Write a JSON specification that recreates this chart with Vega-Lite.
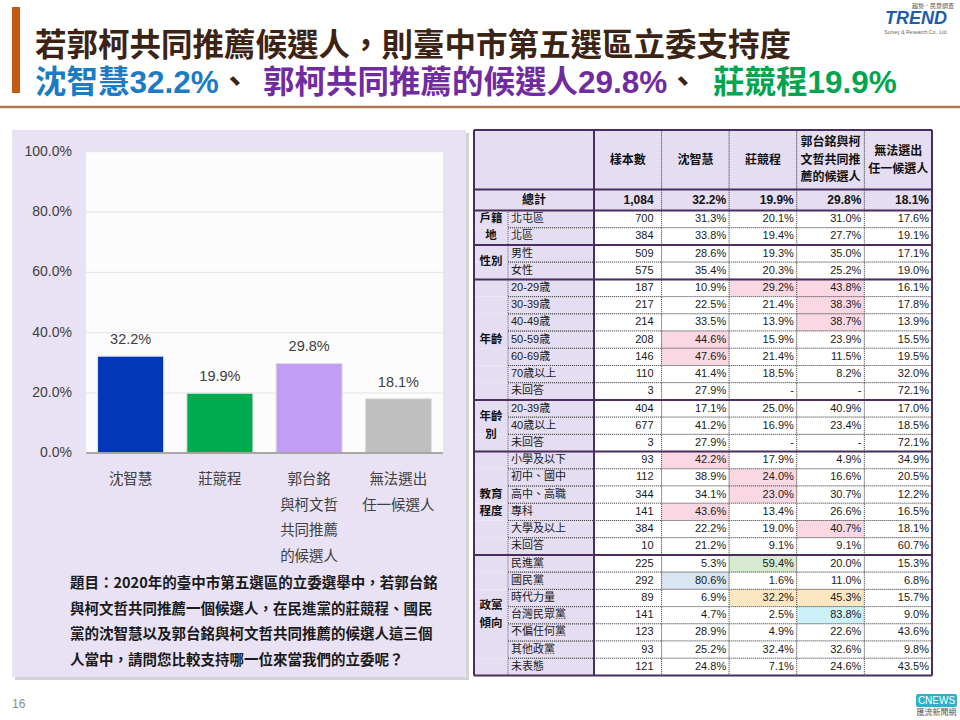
{
  "$schema": "https://vega.github.io/schema/vega-lite/v6.json",
  "width": 960,
  "height": 720,
  "autosize": {"type": "none"},
  "padding": 0,
  "background": "#FFFFFF",
  "config": {"view": {"stroke": null}, "font": "Liberation Sans, Noto Sans CJK TC"},
  "resolve": {"scale": {"x": "independent", "y": "independent", "color": "independent", "fill": "independent"}},
  "layer": [
    {
      "data": {"values": [{}]},
      "layer": [
        {"mark": {"type": "rect", "fill": "#D3D3D3"}, "encoding": {"x": {"value": 15}, "x2": {"value": 469}, "y": {"value": 133}, "y2": {"value": 680}}},
        {"mark": {"type": "rect", "fill": "#E8E2F4"}, "encoding": {"x": {"value": 12}, "x2": {"value": 466}, "y": {"value": 130}, "y2": {"value": 677}}},
        {"mark": {"type": "rect", "fill": "#FCFCFC"}, "encoding": {"x": {"value": 86}, "x2": {"value": 443}, "y": {"value": 152}, "y2": {"value": 453}}},
        {"mark": {"type": "rect", "fill": "#C55A11"}, "encoding": {"x": {"value": 12}, "x2": {"value": 20}, "y": {"value": 7}, "y2": {"value": 93}}},
        {"mark": {"type": "text", "text": "若郭柯共同推薦候選人，則臺中市第五選區立委支持度", "align": "left", "baseline": "middle", "fontSize": 31.5, "fontWeight": "bold", "font": "Liberation Sans, Noto Sans CJK TC", "color": "#3C2415"}, "encoding": {"x": {"value": 35}, "y": {"value": 47}}},
        {"mark": {"type": "text", "text": "沈智慧32.2%", "align": "left", "baseline": "middle", "fontSize": 31.5, "fontWeight": "bold", "font": "Liberation Sans, Noto Sans CJK TC", "color": "#1B7BC4"}, "encoding": {"x": {"value": 35}, "y": {"value": 83.5}}},
        {"mark": {"type": "text", "text": "、", "align": "left", "baseline": "middle", "fontSize": 31.5, "fontWeight": "bold", "font": "Liberation Sans, Noto Sans CJK TC", "color": "#3C2415"}, "encoding": {"x": {"value": 219}, "y": {"value": 83.5}}},
        {"mark": {"type": "text", "text": "郭柯共同推薦的候選人29.8%", "align": "left", "baseline": "middle", "fontSize": 31.5, "fontWeight": "bold", "font": "Liberation Sans, Noto Sans CJK TC", "color": "#702C9F"}, "encoding": {"x": {"value": 263}, "y": {"value": 83.5}}},
        {"mark": {"type": "text", "text": "、", "align": "left", "baseline": "middle", "fontSize": 31.5, "fontWeight": "bold", "font": "Liberation Sans, Noto Sans CJK TC", "color": "#3C2415"}, "encoding": {"x": {"value": 667}, "y": {"value": 83.5}}},
        {"mark": {"type": "text", "text": "莊競程19.9%", "align": "left", "baseline": "middle", "fontSize": 31.5, "fontWeight": "bold", "font": "Liberation Sans, Noto Sans CJK TC", "color": "#00A550"}, "encoding": {"x": {"value": 713}, "y": {"value": 83.5}}},
        {"mark": {"type": "rule", "stroke": "#B07A55", "strokeWidth": 2.5}, "encoding": {"x": {"value": 0}, "x2": {"value": 960}, "y": {"value": 107}}},
        {"mark": {"type": "text", "text": "趨勢．民意調查", "align": "center", "baseline": "middle", "fontSize": 6, "color": "#555555"}, "encoding": {"x": {"value": 933}, "y": {"value": 6}}},
        {"mark": {"type": "text", "text": "TREND", "align": "center", "baseline": "middle", "fontSize": 18, "fontWeight": "bold", "fontStyle": "italic", "font": "Liberation Sans", "color": "#1C5DAE"}, "encoding": {"x": {"value": 916}, "y": {"value": 19}}},
        {"mark": {"type": "text", "text": "Survey & Research Co., Ltd.", "align": "center", "baseline": "middle", "fontSize": 5, "color": "#666666"}, "encoding": {"x": {"value": 916}, "y": {"value": 32}}},
        {"mark": {"type": "text", "text": "題目：2020年的臺中市第五選區的立委選舉中，若郭台銘\n與柯文哲共同推薦一個候選人，在民進黨的莊競程、國民\n黨的沈智慧以及郭台銘與柯文哲共同推薦的候選人這三個\n人當中，請問您比較支持哪一位來當我們的立委呢？", "lineBreak": "\n", "lineHeight": 25.5, "align": "left", "baseline": "alphabetic", "fontSize": 14.5, "fontWeight": "bold", "font": "Noto Sans CJK TC", "color": "#1A1A1A"}, "encoding": {"x": {"value": 70}, "y": {"value": 588}}},
        {"mark": {"type": "text", "text": "16", "align": "left", "baseline": "middle", "fontSize": 12, "color": "#8C8C8C"}, "encoding": {"x": {"value": 12}, "y": {"value": 704}}},
        {"mark": {"type": "rect", "fill": "#2CB4C6", "cornerRadius": 2}, "encoding": {"x": {"value": 916}, "x2": {"value": 957}, "y": {"value": 694}, "y2": {"value": 707}}},
        {"mark": {"type": "text", "text": "CNEWS", "align": "center", "baseline": "middle", "fontSize": 10, "color": "#FFFFFF"}, "encoding": {"x": {"value": 936.5}, "y": {"value": 701}}},
        {"mark": {"type": "text", "text": "匯流新聞網", "align": "center", "baseline": "middle", "fontSize": 8, "color": "#555555"}, "encoding": {"x": {"value": 936.5}, "y": {"value": 713}}}
      ]
    },
    {
      "data": {"values": [
        {"候選人": "沈智慧", "支持度": 0.322},
        {"候選人": "莊競程", "支持度": 0.199},
        {"候選人": "郭台銘與柯文哲共同推薦的候選人", "支持度": 0.298},
        {"候選人": "無法選出任一候選人", "支持度": 0.181}
      ]},
      "layer": [
        {
          "data": {"values": [{"刻度": 0}, {"刻度": 0.2}, {"刻度": 0.4}, {"刻度": 0.6}, {"刻度": 0.8}, {"刻度": 1}]},
          "layer": [
            {"transform": [{"filter": "datum['刻度'] > 0"}],
             "mark": {"type": "rule", "stroke": "#E3E3E3", "strokeWidth": 1},
             "encoding": {"y": {"field": "刻度", "type": "quantitative", "axis": null}, "x": {"value": 86}, "x2": {"value": 443}}},
            {"mark": {"type": "text", "align": "right", "baseline": "middle", "fontSize": 14, "color": "#404040", "font": "Liberation Sans"},
             "encoding": {"y": {"field": "刻度", "type": "quantitative", "axis": null}, "x": {"value": 72}, "text": {"field": "刻度", "type": "quantitative", "format": ".1%"}}}
          ]
        },
        {
          "mark": {"type": "bar", "stroke": "#E0E0E0", "strokeWidth": 1},
          "encoding": {
            "x": {"field": "候選人", "type": "nominal", "sort": null,
              "scale": {"range": [86, 443], "paddingInner": 0.26, "paddingOuter": 0.13}, "axis": null},
            "y": {"field": "支持度", "type": "quantitative",
              "scale": {"domain": [0, 1], "range": [453.3, 151.7], "nice": false, "zero": true}, "axis": null},
            "color": {"field": "候選人", "type": "nominal", "sort": null, "scale": {"range": ["#0038B8", "#00AB4F", "#C39DF4", "#BFBFBF"]}, "legend": null}
          }
        },
        {"mark": {"type": "rule", "stroke": "#A6A6A6", "strokeWidth": 1.5},
         "encoding": {"y": {"datum": 0, "type": "quantitative", "axis": null}, "x": {"value": 86}, "x2": {"value": 443}}},
        {
          "mark": {"type": "text", "baseline": "middle", "dy": -16, "fontSize": 14.5, "color": "#404040", "font": "Liberation Sans"},
          "encoding": {
            "x": {"field": "候選人", "type": "nominal", "sort": null, "axis": null},
            "y": {"field": "支持度", "type": "quantitative", "axis": null},
            "text": {"field": "支持度", "type": "quantitative", "format": ".1%"}
          }
        },
        {
          "transform": [{"calculate": "datum['候選人'] === '郭台銘與柯文哲共同推薦的候選人' ? '郭台銘\\n與柯文哲\\n共同推薦\\n的候選人' : datum['候選人'] === '無法選出任一候選人' ? '無法選出\\n任一候選人' : datum['候選人']", "as": "標籤"}],
          "mark": {"type": "text", "baseline": "top", "align": "center", "lineBreak": "\n", "lineHeight": 25.5, "fontSize": 14.5, "color": "#404040", "font": "Liberation Sans, Noto Sans CJK TC"},
          "encoding": {
            "x": {"field": "候選人", "type": "nominal", "sort": null, "axis": null},
            "y": {"value": 473},
            "text": {"field": "標籤"}
          }
        }
      ]
    },
    {
      "data": {"values": [
        {"g": "總計", "s": "", "樣本數": 1084, "沈智慧": 32.2, "莊競程": 19.9, "郭柯推薦": 29.8, "無法選出": 18.1},
        {"g": "戶籍地", "s": "北屯區", "樣本數": 700, "沈智慧": 31.3, "莊競程": 20.1, "郭柯推薦": 31.0, "無法選出": 17.6},
        {"g": "戶籍地", "s": "北區", "樣本數": 384, "沈智慧": 33.8, "莊競程": 19.4, "郭柯推薦": 27.7, "無法選出": 19.1},
        {"g": "性別", "s": "男性", "樣本數": 509, "沈智慧": 28.6, "莊競程": 19.3, "郭柯推薦": 35.0, "無法選出": 17.1},
        {"g": "性別", "s": "女性", "樣本數": 575, "沈智慧": 35.4, "莊競程": 20.3, "郭柯推薦": 25.2, "無法選出": 19.0},
        {"g": "年齡", "s": "20-29歳", "樣本數": 187, "沈智慧": 10.9, "莊競程": 29.2, "郭柯推薦": 43.8, "無法選出": 16.1, "hi": ["莊競程", "郭柯推薦"]},
        {"g": "年齡", "s": "30-39歳", "樣本數": 217, "沈智慧": 22.5, "莊競程": 21.4, "郭柯推薦": 38.3, "無法選出": 17.8, "hi": ["郭柯推薦"]},
        {"g": "年齡", "s": "40-49歳", "樣本數": 214, "沈智慧": 33.5, "莊競程": 13.9, "郭柯推薦": 38.7, "無法選出": 13.9, "hi": ["郭柯推薦"]},
        {"g": "年齡", "s": "50-59歳", "樣本數": 208, "沈智慧": 44.6, "莊競程": 15.9, "郭柯推薦": 23.9, "無法選出": 15.5, "hi": ["沈智慧"]},
        {"g": "年齡", "s": "60-69歳", "樣本數": 146, "沈智慧": 47.6, "莊競程": 21.4, "郭柯推薦": 11.5, "無法選出": 19.5, "hi": ["沈智慧"]},
        {"g": "年齡", "s": "70歳以上", "樣本數": 110, "沈智慧": 41.4, "莊競程": 18.5, "郭柯推薦": 8.2, "無法選出": 32.0},
        {"g": "年齡", "s": "未回答", "樣本數": 3, "沈智慧": 27.9, "莊競程": null, "郭柯推薦": null, "無法選出": 72.1},
        {"g": "年齡別", "s": "20-39歳", "樣本數": 404, "沈智慧": 17.1, "莊競程": 25.0, "郭柯推薦": 40.9, "無法選出": 17.0},
        {"g": "年齡別", "s": "40歳以上", "樣本數": 677, "沈智慧": 41.2, "莊競程": 16.9, "郭柯推薦": 23.4, "無法選出": 18.5},
        {"g": "年齡別", "s": "未回答", "樣本數": 3, "沈智慧": 27.9, "莊競程": null, "郭柯推薦": null, "無法選出": 72.1},
        {"g": "教育程度", "s": "小學及以下", "樣本數": 93, "沈智慧": 42.2, "莊競程": 17.9, "郭柯推薦": 4.9, "無法選出": 34.9, "hi": ["沈智慧"]},
        {"g": "教育程度", "s": "初中、國中", "樣本數": 112, "沈智慧": 38.9, "莊競程": 24.0, "郭柯推薦": 16.6, "無法選出": 20.5, "hi": ["莊競程"]},
        {"g": "教育程度", "s": "高中、高職", "樣本數": 344, "沈智慧": 34.1, "莊競程": 23.0, "郭柯推薦": 30.7, "無法選出": 12.2, "hi": ["莊競程"]},
        {"g": "教育程度", "s": "專科", "樣本數": 141, "沈智慧": 43.6, "莊競程": 13.4, "郭柯推薦": 26.6, "無法選出": 16.5, "hi": ["沈智慧"]},
        {"g": "教育程度", "s": "大學及以上", "樣本數": 384, "沈智慧": 22.2, "莊競程": 19.0, "郭柯推薦": 40.7, "無法選出": 18.1, "hi": ["郭柯推薦"]},
        {"g": "教育程度", "s": "未回答", "樣本數": 10, "沈智慧": 21.2, "莊競程": 9.1, "郭柯推薦": 9.1, "無法選出": 60.7},
        {"g": "政黨傾向", "s": "民進黨", "樣本數": 225, "沈智慧": 5.3, "莊競程": 59.4, "郭柯推薦": 20.0, "無法選出": 15.3, "hi": ["莊競程"]},
        {"g": "政黨傾向", "s": "國民黨", "樣本數": 292, "沈智慧": 80.6, "莊競程": 1.6, "郭柯推薦": 11.0, "無法選出": 6.8, "hi": ["沈智慧"]},
        {"g": "政黨傾向", "s": "時代力量", "樣本數": 89, "沈智慧": 6.9, "莊競程": 32.2, "郭柯推薦": 45.3, "無法選出": 15.7, "hi": ["莊競程", "郭柯推薦"]},
        {"g": "政黨傾向", "s": "台灣民眾黨", "樣本數": 141, "沈智慧": 4.7, "莊競程": 2.5, "郭柯推薦": 83.8, "無法選出": 9.0, "hi": ["郭柯推薦"]},
        {"g": "政黨傾向", "s": "不偏任何黨", "樣本數": 123, "沈智慧": 28.9, "莊競程": 4.9, "郭柯推薦": 22.6, "無法選出": 43.6},
        {"g": "政黨傾向", "s": "其他政黨", "樣本數": 93, "沈智慧": 25.2, "莊競程": 32.4, "郭柯推薦": 32.6, "無法選出": 9.8},
        {"g": "政黨傾向", "s": "未表態", "樣本數": 121, "沈智慧": 24.8, "莊競程": 7.1, "郭柯推薦": 24.6, "無法選出": 43.5}
      ]},
      "transform": [
        {"window": [{"op": "row_number", "as": "idx"}]},
        {"calculate": "datum.idx - 1", "as": "top"},
        {"calculate": "datum.idx - 0.5", "as": "mid"},
        {"window": [{"op": "row_number", "as": "gr"}], "groupby": ["g"], "sort": [{"field": "idx", "order": "ascending"}]},
        {"joinaggregate": [{"op": "mean", "field": "mid", "as": "gmid"}], "groupby": ["g"]}
      ],
      "layer": [
        {"mark": {"type": "rect", "fill": "#E5DEF3"},
         "encoding": {"x": {"value": 474}, "x2": {"value": 594},
           "y": {"field": "top", "type": "quantitative", "scale": {"type": "linear", "domain": [-1, 0, 1, 28], "range": [130, 189.5, 210.5, 675.5], "nice": false, "zero": false}, "axis": null},
           "y2": {"field": "idx"}}},
        {"transform": [{"filter": "datum.idx === 1"}],
         "mark": {"type": "rect", "fill": "#E5DEF3"},
         "encoding": {"x": {"value": 474}, "x2": {"value": 932},
           "y": {"datum": -1, "type": "quantitative", "axis": null}, "y2": {"datum": 0}}},
        {"transform": [
           {"fold": ["樣本數", "沈智慧", "莊競程", "郭柯推薦", "無法選出"], "as": ["col", "v"]},
           {"calculate": "datum.g === '政黨傾向' ? datum.s : '高於整體'", "as": "kind"}],
         "mark": {"type": "rect", "stroke": "#3C3C3C", "strokeWidth": 0.8, "strokeDash": [1, 1]},
         "encoding": {
           "x": {"field": "col", "type": "nominal", "scale": {"type": "band", "domain": ["樣本數", "沈智慧", "莊競程", "郭柯推薦", "無法選出"], "range": [594, 932], "paddingInner": 0, "paddingOuter": 0}, "axis": null},
           "y": {"field": "top", "type": "quantitative", "axis": null},
           "y2": {"field": "idx"},
           "fill": {"field": "kind", "type": "nominal",
             "scale": {"domain": ["高於整體", "民進黨", "國民黨", "時代力量", "台灣民眾黨"], "range": ["#F9D8E4", "#D7E9CF", "#D9E5F2", "#FDE7C2", "#CCF1F8"]},
             "legend": null,
             "condition": [
               {"test": "datum.idx === 1", "value": "#E5DEF3"},
               {"test": "indexof(datum.hi || [], datum.col) < 0", "value": "#FFFFFF"}
             ]}
         }},
        {"transform": [{"filter": "datum.idx === 1"}, {"fold": ["樣本數", "沈智慧", "莊競程", "郭柯推薦", "無法選出"], "as": ["col", "v"]}],
         "mark": {"type": "rect", "fill": "#E5DEF3", "stroke": "#3C3C3C", "strokeWidth": 0.8, "strokeDash": [1, 1]},
         "encoding": {"x": {"field": "col", "type": "nominal", "axis": null},
           "y": {"datum": -1, "type": "quantitative", "axis": null}, "y2": {"datum": 0}}},
        {"transform": [
           {"filter": "datum.idx === 1"},
           {"fold": ["樣本數", "沈智慧", "莊競程", "郭柯推薦", "無法選出"], "as": ["col", "v"]},
           {"calculate": "datum.col === '郭柯推薦' ? '郭台銘與柯\\n文哲共同推\\n薦的候選人' : datum.col === '無法選出' ? '無法選出\\n任一候選人' : datum.col", "as": "head"}],
         "layer": [
           {"transform": [{"filter": "datum.col !== '郭柯推薦' && datum.col !== '無法選出'"}],
            "mark": {"type": "text", "fontSize": 12, "fontWeight": "bold", "align": "center", "baseline": "middle", "color": "#111111"},
            "encoding": {"x": {"field": "col", "type": "nominal", "axis": null}, "y": {"datum": -0.5, "type": "quantitative", "axis": null}, "text": {"field": "head"}}},
           {"transform": [{"filter": "datum.col === '無法選出'"}],
            "mark": {"type": "text", "fontSize": 12, "fontWeight": "bold", "lineBreak": "\n", "lineHeight": 17.5, "dy": -8.75, "align": "center", "baseline": "middle", "color": "#111111"},
            "encoding": {"x": {"field": "col", "type": "nominal", "axis": null}, "y": {"datum": -0.5, "type": "quantitative", "axis": null}, "text": {"field": "head"}}},
           {"transform": [{"filter": "datum.col === '郭柯推薦'"}],
            "mark": {"type": "text", "fontSize": 12, "fontWeight": "bold", "lineBreak": "\n", "lineHeight": 17.5, "dy": -17.5, "align": "center", "baseline": "middle", "color": "#111111"},
            "encoding": {"x": {"field": "col", "type": "nominal", "axis": null}, "y": {"datum": -0.5, "type": "quantitative", "axis": null}, "text": {"field": "head"}}}
         ]},
        {"transform": [{"filter": "datum.idx > 1"}],
         "mark": {"type": "rect", "fill": "transparent", "stroke": "#3C3C3C", "strokeWidth": 0.8, "strokeDash": [1, 1]},
         "encoding": {"x": {"value": 508}, "x2": {"value": 594},
           "y": {"field": "top", "type": "quantitative", "axis": null}, "y2": {"field": "idx"}}},
        {"transform": [
           {"filter": "datum.idx > 1"},
           {"fold": ["沈智慧", "莊競程", "郭柯推薦", "無法選出"], "as": ["col", "v"]},
           {"calculate": "datum.v === null ? '-\u00a0\u00a0\u00a0' : format(datum.v, '.1f') + '%'", "as": "lab"}],
         "mark": {"type": "text", "align": "right", "baseline": "middle", "dx": -3, "fontSize": 11, "color": "#1A1A1A", "font": "Liberation Sans"},
         "encoding": {"x": {"field": "col", "type": "nominal", "axis": null, "bandPosition": 1},
           "y": {"field": "mid", "type": "quantitative", "axis": null},
           "text": {"field": "lab"}}},
        {"transform": [
           {"filter": "datum.idx > 1"},
           {"fold": ["樣本數"], "as": ["col", "v"]},
           {"calculate": "format(datum.v, ',')", "as": "lab"}],
         "mark": {"type": "text", "align": "right", "baseline": "middle", "dx": -8, "fontSize": 11, "color": "#1A1A1A", "font": "Liberation Sans"},
         "encoding": {"x": {"field": "col", "type": "nominal", "axis": null, "bandPosition": 1},
           "y": {"field": "mid", "type": "quantitative", "axis": null},
           "text": {"field": "lab"}}},
        {"transform": [
           {"filter": "datum.idx === 1"},
           {"fold": ["沈智慧", "莊競程", "郭柯推薦", "無法選出"], "as": ["col", "v"]},
           {"calculate": "format(datum.v, '.1f') + '%'", "as": "lab"}],
         "mark": {"type": "text", "align": "right", "baseline": "middle", "dx": -3, "fontSize": 12, "fontWeight": "bold", "color": "#111111", "font": "Liberation Sans"},
         "encoding": {"x": {"field": "col", "type": "nominal", "axis": null, "bandPosition": 1},
           "y": {"field": "mid", "type": "quantitative", "axis": null},
           "text": {"field": "lab"}}},
        {"transform": [
           {"filter": "datum.idx === 1"},
           {"fold": ["樣本數"], "as": ["col", "v"]},
           {"calculate": "format(datum.v, ',')", "as": "lab"}],
         "mark": {"type": "text", "align": "right", "baseline": "middle", "dx": -8, "fontSize": 12, "fontWeight": "bold", "color": "#111111", "font": "Liberation Sans"},
         "encoding": {"x": {"field": "col", "type": "nominal", "axis": null, "bandPosition": 1},
           "y": {"field": "mid", "type": "quantitative", "axis": null},
           "text": {"field": "lab"}}},
        {"transform": [{"filter": "datum.idx === 1"}],
         "mark": {"type": "text", "align": "center", "baseline": "middle", "fontSize": 12, "fontWeight": "bold", "color": "#111111"},
         "encoding": {"x": {"value": 534}, "y": {"field": "mid", "type": "quantitative", "axis": null}, "text": {"field": "g"}}},
        {"transform": [{"filter": "datum.idx > 1"}],
         "mark": {"type": "text", "align": "left", "baseline": "middle", "fontSize": 11, "color": "#1A1A1A"},
         "encoding": {"x": {"value": 511}, "y": {"field": "mid", "type": "quantitative", "axis": null}, "text": {"field": "s"}}},
        {"transform": [
           {"filter": "datum.idx > 1 && datum.gr === 1"},
           {"calculate": "length(datum.g) > 2 ? substring(datum.g, 0, 2) + '\\n' + substring(datum.g, 2) : datum.g", "as": "gl"}],
         "layer": [
           {"transform": [{"filter": "length(datum.g) <= 2"}],
            "mark": {"type": "text", "align": "center", "baseline": "middle", "fontSize": 11.5, "fontWeight": "bold", "color": "#111111"},
            "encoding": {"x": {"value": 491}, "y": {"field": "gmid", "type": "quantitative", "axis": null}, "text": {"field": "gl"}}},
           {"transform": [{"filter": "length(datum.g) > 2"}],
            "mark": {"type": "text", "align": "center", "baseline": "middle", "fontSize": 11.5, "fontWeight": "bold", "lineBreak": "\n", "lineHeight": 17.5, "dy": -8.75, "color": "#111111"},
            "encoding": {"x": {"value": 491}, "y": {"field": "gmid", "type": "quantitative", "axis": null}, "text": {"field": "gl"}}}
         ]},
        {"transform": [{"filter": "datum.gr === 1"}],
         "mark": {"type": "rule", "stroke": "#4A2D5E", "strokeWidth": 2},
         "encoding": {"x": {"value": 474}, "x2": {"value": 932}, "y": {"field": "top", "type": "quantitative", "axis": null}}},
        {"transform": [{"filter": "datum.idx === 1"}],
         "mark": {"type": "rule", "stroke": "#4A2D5E", "strokeWidth": 2},
         "encoding": {"x": {"value": 474}, "x2": {"value": 932}, "y": {"datum": -1, "type": "quantitative", "axis": null}}},
        {"transform": [{"filter": "datum.idx === 1"}],
         "mark": {"type": "rule", "stroke": "#4A2D5E", "strokeWidth": 2},
         "encoding": {"x": {"value": 474}, "x2": {"value": 932}, "y": {"datum": 28, "type": "quantitative", "axis": null}}},
        {"transform": [{"filter": "datum.idx === 1"}],
         "mark": {"type": "rule", "stroke": "#4A2D5E", "strokeWidth": 2},
         "encoding": {"x": {"value": 474}, "y": {"datum": -1, "type": "quantitative", "axis": null}, "y2": {"datum": 28}}},
        {"transform": [{"filter": "datum.idx === 1"}],
         "mark": {"type": "rule", "stroke": "#4A2D5E", "strokeWidth": 2},
         "encoding": {"x": {"value": 594}, "y": {"datum": -1, "type": "quantitative", "axis": null}, "y2": {"datum": 28}}},
        {"transform": [{"filter": "datum.idx === 1"}],
         "mark": {"type": "rule", "stroke": "#4A2D5E", "strokeWidth": 2},
         "encoding": {"x": {"value": 932}, "y": {"datum": -1, "type": "quantitative", "axis": null}, "y2": {"datum": 28}}}
      ]
    }
  ]
}
